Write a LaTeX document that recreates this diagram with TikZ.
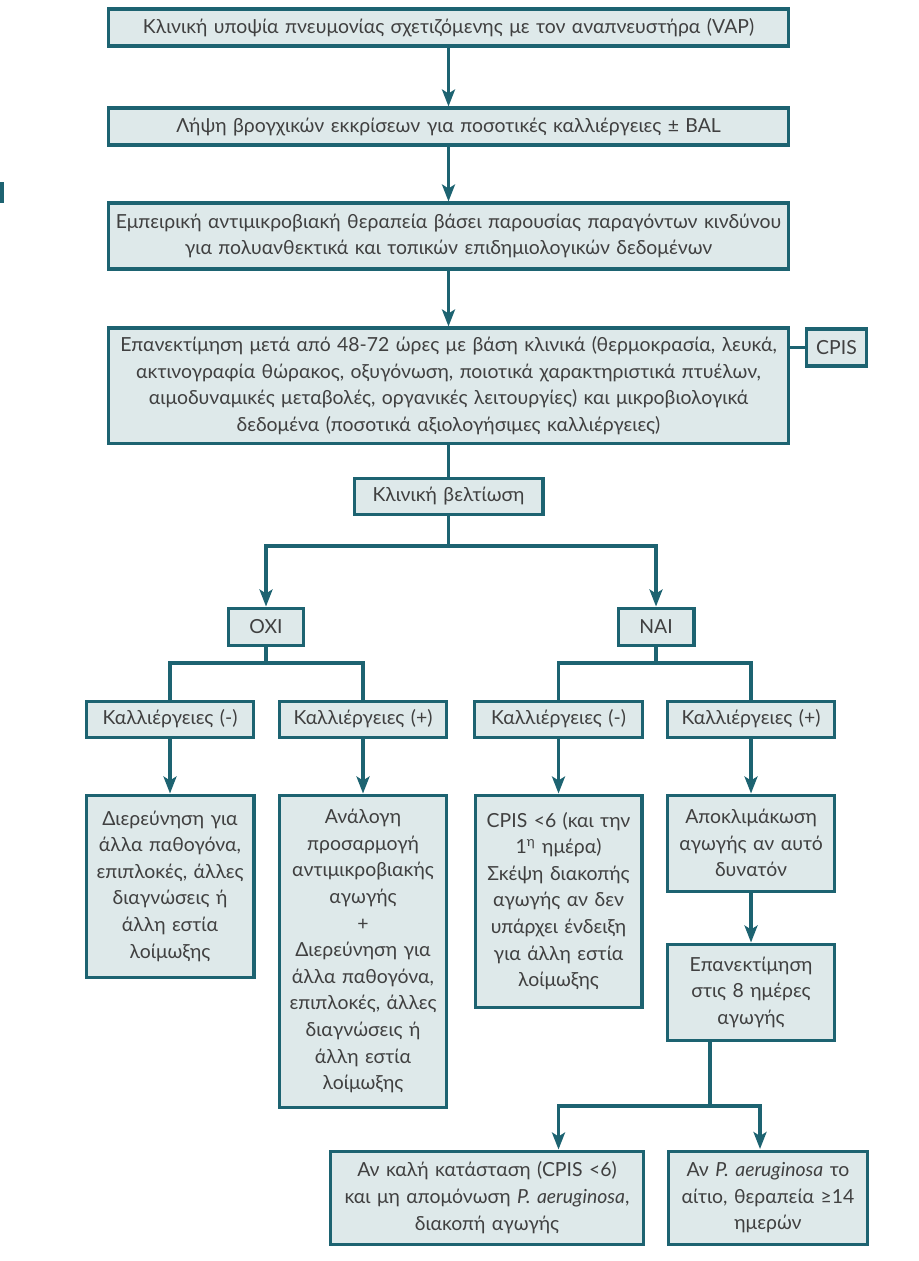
\documentclass[tikz,border=0pt]{standalone}
\usepackage{fontspec}
\setmainfont{Lato}
\usetikzlibrary{arrows.meta, positioning}

\definecolor{vapteal}{RGB}{29,99,113}
\definecolor{vapfill}{RGB}{222,233,234}
\definecolor{vaptext}{RGB}{64,64,64}

\begin{document}
\begin{tikzpicture}[
    x=0.5pt, y=-0.5pt,
    >={Stealth[length=8.5pt, width=6.5pt, inset=2pt]},
    vapteal, line width=1.6pt,
    box/.style={rectangle, draw=vapteal, fill=vapfill,
        anchor=north, align=center, inner xsep=0.7pt, inner ysep=0pt,
        text=vaptext, font=\fontsize{9.7}{13.3}\selectfont},
    arr/.style={->}
]
\useasboundingbox (0,0) rectangle (918,1261);

% Mark on the left edge
\fill[vapteal] (0,182) rectangle (4,203);

% Nodes
\node[box, text width=338.5pt, minimum height=18.5pt] (susp) at (448.5,7.5)
    {Κλινική υποψία πνευμονίας σχετιζόμενης με τον αναπνευστήρα (VAP)};
\node[box, text width=338.5pt, minimum height=18.5pt] (bal) at (448.5,106.5)
    {Λήψη βρογχικών εκκρίσεων για ποσοτικές καλλιέργειες ± BAL};
\node[box, text width=338.5pt, minimum height=33pt] (emp) at (448.5,201.5)
    {Εμπειρική αντιμικροβιακή θεραπεία βάσει παρουσίας παραγόντων κινδύνου\\
     για πολυανθεκτικά και τοπικών επιδημιολογικών δεδομένων};
\node[box, text width=338.5pt, minimum height=57.5pt] (reval) at (448.5,326.5)
    {Επανεκτίμηση μετά από 48-72 ώρες με βάση κλινικά (θερμοκρασία, λευκά,\\
     ακτινογραφία θώρακος, οξυγόνωση, ποιοτικά χαρακτηριστικά πτυέλων,\\
     αιμοδυναμικές μεταβολές, οργανικές λειτουργίες) και μικροβιολογικά\\
     δεδομένα (ποσοτικά αξιολογήσιμες καλλιέργειες)};
\node[box, text width=28.5pt, minimum height=18.5pt] (cpis) at (836.5,327.5) {CPIS};
\node[box, text width=93pt, minimum height=18pt] (better) at (448.5,476.5) {Κλινική βελτίωση};

\node[box, text width=36pt, minimum height=18.5pt] (oxi) at (266,606.5) {ΟΧΙ};
\node[box, text width=36.5pt, minimum height=18.5pt] (nai) at (656,606.5) {ΝΑΙ};

\node[box, text width=82pt, minimum height=18pt] (kneg1) at (170,699.5) {Καλλιέργειες (-)};
\node[box, text width=82pt, minimum height=18pt] (kpos1) at (363,699.5) {Καλλιέργειες (+)};
\node[box, text width=82.5pt, minimum height=18pt] (kneg2) at (558.5,699.5) {Καλλιέργειες (-)};
\node[box, text width=82pt, minimum height=18pt] (kpos2) at (751,699.5) {Καλλιέργειες (+)};

\node[box, text width=82.5pt, minimum height=91pt] (d1) at (170,793.5)
    {Διερεύνηση για\\άλλα παθογόνα,\\επιπλοκές, άλλες\\διαγνώσεις ή\\άλλη εστία\\λοίμωξης};
\node[box, text width=82pt, minimum height=156pt] (d2) at (363,793.5)
    {Ανάλογη\\προσαρμογή\\αντιμικροβιακής\\αγωγής\\+\\Διερεύνηση για\\άλλα παθογόνα,\\
     επιπλοκές, άλλες\\διαγνώσεις ή\\άλλη εστία\\λοίμωξης};
\node[box, text width=82pt, minimum height=106pt] (d3) at (558.5,793.5)
    {CPIS <6 (και την\\1\textsuperscript{η} ημέρα)\\Σκέψη διακοπής\\αγωγής αν δεν\\
     υπάρχει ένδειξη\\για άλλη εστία\\λοίμωξης};
\node[box, text width=82pt, minimum height=48pt] (d4) at (751,793.5)
    {Αποκλιμάκωση\\αγωγής αν αυτό\\δυνατόν};
\node[box, text width=82pt, minimum height=48pt] (e8) at (751,942.5)
    {Επανεκτίμηση\\στις 8 ημέρες\\αγωγής};

\node[box, text width=155pt, minimum height=46.5pt] (a1) at (487,1149.5)
    {Αν καλή κατάσταση (CPIS <6)\\και μη απομόνωση \textit{P. aeruginosa},\\διακοπή αγωγής};
\node[box, text width=98pt, minimum height=46.5pt] (a2) at (768,1149.5)
    {Αν \textit{P. aeruginosa} το\\αίτιο, θεραπεία ≥14\\ημερών};

% Branch points
\coordinate (split1) at (448.5,546);
\coordinate (split2) at (266,663);
\coordinate (split3) at (656,663);
\coordinate (split4) at (710,1106);
\coordinate (a2in) at (760,1149);

% Edges
\draw[arr] (susp) -- (bal);
\draw[arr] (bal) -- (emp);
\draw[arr] (emp) -- (reval);
\draw (cpis.west -| reval.east) -- (cpis.west);
\draw (reval) -- (better);

\draw (better) -- (split1);
\draw[arr] (split1) -| (oxi);
\draw[arr] (split1) -| (nai);

\draw (oxi) -- (split2);
\draw (split2) -| (kneg1);
\draw (split2) -| (kpos1);
\draw (nai) -- (split3);
\draw (split3) -| (kneg2);
\draw (split3) -| (kpos2);

\draw[arr] (kneg1) -- (d1);
\draw[arr] (kpos1) -- (d2);
\draw[arr] (kneg2) -- (d3);
\draw[arr] (kpos2) -- (d4);
\draw[arr] (d4) -- (e8);

\draw (split4 |- e8.south) -- (split4);
\draw[arr] (split4) -| (a1.north -| kneg2);
\draw[arr] (split4) -| (a2in);

\end{tikzpicture}
\end{document}
